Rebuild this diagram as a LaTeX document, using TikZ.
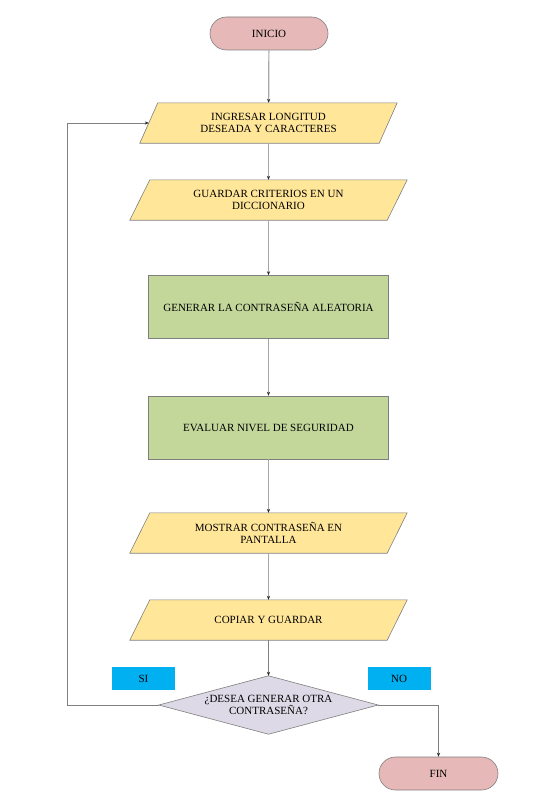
\documentclass[tikz,border=0pt]{standalone}
\usepackage{fontspec}
\setmainfont{Liberation Serif}
\usetikzlibrary{arrows.meta,backgrounds}
\definecolor{pinkf}{HTML}{E6B8B7}
\definecolor{yelf}{HTML}{FFE699}
\definecolor{grnf}{HTML}{C4D79B}
\definecolor{lilf}{HTML}{DDD9E6}
\definecolor{bluef}{HTML}{00B0F0}
\definecolor{edgec}{HTML}{7F7F7F}
\definecolor{linec}{HTML}{A6A6A6}
\tikzset{
  base/.style={inner sep=0pt, align=center, font=\rmfamily\fontsize{11}{12.5}\selectfont, text=black},
  term/.style={base, draw=edgec, fill=pinkf, rounded corners=16.5pt, minimum height=33pt, line width=0.6pt},
  iobox/.style={base, minimum height=40pt},
  procbox/.style={base, draw=edgec, fill=grnf, minimum width=240pt, minimum height=63pt, line width=0.6pt},
  decbox/.style={base, minimum width=219pt, minimum height=58pt},
  tagbox/.style={base, fill=bluef, minimum width=63pt, minimum height=23pt},
  shapeline/.style={draw=edgec, line width=0.6pt},
  flow/.style={draw=linec, line width=1.2pt, -{Stealth[length=4pt,width=3.2pt,color=black!85]}},
  flowthin/.style={draw=gray, line width=0.7pt, -{Stealth[length=4pt,width=3.2pt,color=black!85]}}
}
\begin{document}
\begin{tikzpicture}[x=1pt,y=-1pt]
\useasboundingbox (0,0) rectangle (550,800);

\node[term, minimum width=118pt] (ini) at (269,33.5) {INICIO};
\node[iobox, minimum width=239pt] (p1) at (268.5,123) {INGRESAR LONGITUD\\DESEADA Y CARACTERES};
\node[iobox, minimum width=257pt] (p2) at (268.5,200) {GUARDAR CRITERIOS EN UN\\DICCIONARIO};
\node[procbox] (g1) at (268.5,307) {GENERAR LA CONTRASEÑA ALEATORIA};
\node[procbox] (g2) at (268.5,427.5) {EVALUAR NIVEL DE SEGURIDAD};
\node[iobox, minimum width=257pt] (p3) at (268.5,533) {MOSTRAR CONTRASEÑA EN\\PANTALLA};
\node[iobox, minimum width=257pt] (p4) at (268.5,620) {COPIAR Y GUARDAR};
\node[decbox] (d) at (268.5,705) {¿DESEA GENERAR OTRA\\CONTRASEÑA?};
\node[tagbox] (si) at (143.5,678.5) {SI};
\node[tagbox] (no) at (399,678.5) {NO};
\node[term, minimum width=119pt] (fin) at (438.5,773.5) {FIN};

\begin{scope}[on background layer]
  \fill[white] (0,0) rectangle (550,800);
  \path[shapeline, fill=yelf] ([xshift=9pt]p1.north west) -- ([xshift=9pt]p1.north east)
     -- ([xshift=-9pt]p1.south east) -- ([xshift=-9pt]p1.south west) -- cycle;
  \foreach \n in {p2,p3,p4}{
    \path[shapeline, fill=yelf] ([xshift=10pt]\n.north west) -- ([xshift=10pt]\n.north east)
       -- ([xshift=-10pt]\n.south east) -- ([xshift=-10pt]\n.south west) -- cycle;
  }
  \path[shapeline, fill=lilf] (d.north) -- (d.east) -- (d.south) -- (d.west) -- cycle;
\end{scope}

\coordinate (lc1) at (67,705);
\coordinate (lc2) at (67,123);
\coordinate (rc1) at (438.5,705);

\draw[flow] (ini) -- (p1);
\draw[flow] (p1) -- (p2);
\draw[flow] (p2) -- (g1);
\draw[flow] (g1) -- (g2);
\draw[flow] (g2) -- (p3);
\draw[flow] (p3) -- (p4);
\draw[flowthin] (p4) -- (d);
\draw[flowthin] (d.west) -- (lc1) -- (lc2) -- (p1.west);
\draw[flowthin] (d.east) -- (rc1) -- (fin.north);
\end{tikzpicture}
\end{document}
